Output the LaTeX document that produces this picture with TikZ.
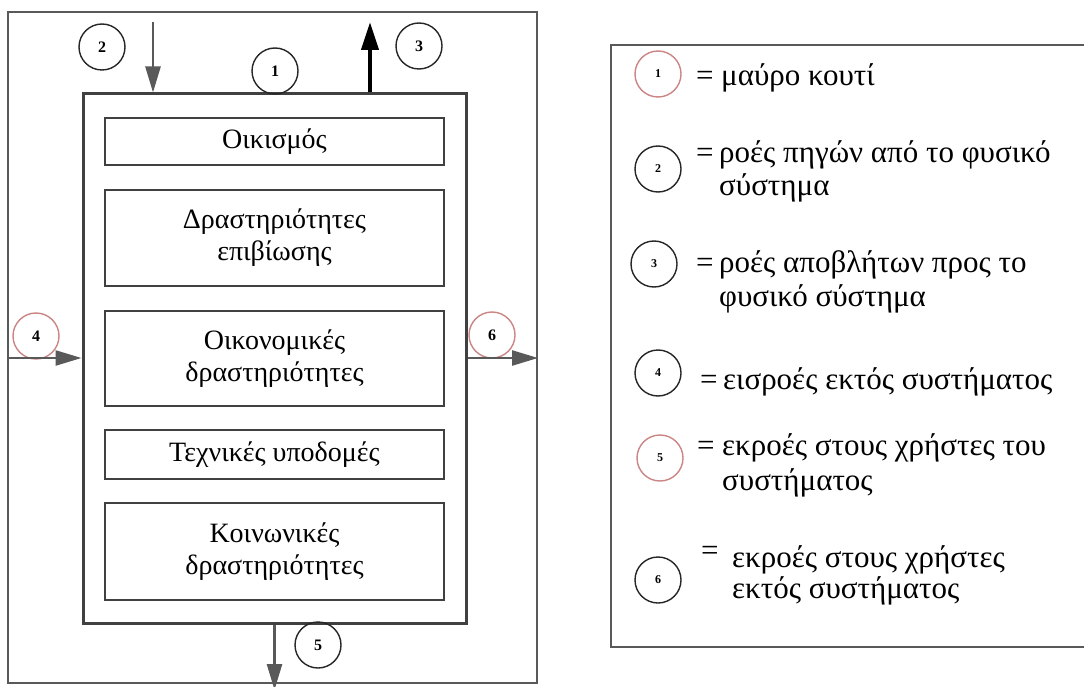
\documentclass[tikz,border=0pt]{standalone}
\usepackage{fontspec}
\setmainfont{Liberation Serif}
\usetikzlibrary{arrows.meta}
\begin{document}
\begin{tikzpicture}[x=1pt,y=-1pt,
  frame/.style={draw=black!65, line width=2pt},
  inbox/.style={draw=black!75, line width=3pt, inner sep=0pt},
  cbox/.style={draw=black!75, line width=2pt, minimum width=339pt, inner sep=0pt, align=center, font=\fontsize{28}{32}\selectfont},
  num/.style={draw=black!85, circle, line width=1.4pt, minimum size=46pt, inner sep=0pt, font=\fontsize{16}{16}\selectfont\bfseries},
  pnum/.style={num, draw=red!35!white!80!black},
  lnum/.style={num, font=\fontsize{12}{12}\selectfont\bfseries},
  lpnum/.style={pnum, font=\fontsize{12}{12}\selectfont\bfseries},
  ltext/.style={anchor=base west, inner sep=0pt, font=\fontsize{31}{35}\selectfont},
  flow/.style={draw=black!65, line width=2.5pt, -{Triangle[length=26pt,width=15pt]}},
  bflow/.style={draw=black, line width=4pt, -{Triangle[length=28pt,width=17pt]}}
]
\path[use as bounding box, fill=white] (0,0) rectangle (1084,687);

% frames
\node[frame, minimum width=529pt, minimum height=671pt, inner sep=0pt] (outer) at (272.5,347.5) {};
\node[inbox, minimum width=383pt, minimum height=529pt] (inner) at (274.5,358.5) {};

% content boxes
\node[cbox, minimum height=47pt] (b1) at (274.5,141.5) {Οικισμός};
\node[cbox, minimum height=96pt] (b2) at (274.5,238) {Δραστηριότητες\\επιβίωσης};
\node[cbox, minimum height=95pt] (b3) at (274.5,358.5) {Οικονομικές\\δραστηριότητες};
\node[cbox, minimum height=49pt] (b4) at (274.5,454.5) {Τεχνικές υποδομές};
\node[cbox, minimum height=97pt] (b5) at (274.5,551.5) {Κοινωνικές\\δραστηριότητες};

% numbered circles in the diagram
\node[num] (c2) at (102,47) {2};
\node[num] (c1) at (275,71) {1};
\node[num] (c3) at (419,46) {3};
\node[pnum] (c4) at (36,336) {4};
\node[pnum] (c6) at (492,335) {6};
\node[num] (c5) at (318,645) {5};

% flows
\coordinate (s2) at (153,22);
\coordinate (e3) at (370,22);
\coordinate (s4) at (outer.west |- 0,358);
\coordinate (e6) at (outer.east |- 0,358);
\coordinate (e5) at (inner.south |- 0,690);
\draw[flow] (s2) -- (s2 |- inner.north);
\draw[bflow] (e3 |- inner.north) -- (e3);
\draw[flow] (s4) -- (inner.west |- s4);
\draw[flow] (inner.east |- e6) -- (e6);
\draw[flow] (inner.south) -- (e5);

% legend
\draw[frame] (1090,45) -- (611,45) -- (611,647) -- (1090,647);

\node[lpnum] (l1) at (658,74) {1};
\node[ltext] (e1) at (696,86) {=};
\node[ltext] (t1) at (721,86) {μαύρο κουτί};

\node[lnum] (l2) at (658,169) {2};
\node[ltext] (e2) at (696,163) {=};
\node[ltext] (t2a) at (719,163) {ροές πηγών από το φυσικό};
\node[ltext] (t2b) at (719,196) {σύστημα};

\node[lnum] (l3) at (654,264) {3};
\node[ltext] (e3t) at (696,272) {=};
\node[ltext] (t3a) at (719,272) {ροές αποβλήτων προς το};
\node[ltext] (t3b) at (719,306) {φυσικό σύστημα};

\node[lnum] (l4) at (658,373) {4};
\node[ltext] (e4) at (700,389) {=};
\node[ltext] (t4) at (723,389) {εισροές εκτός συστήματος};

\node[lpnum] (l5) at (660,458) {5};
\node[ltext] (e5t) at (697,455) {=};
\node[ltext] (t5a) at (722,455) {εκροές στους χρήστες του};
\node[ltext] (t5b) at (722,490) {συστήματος};

\node[lnum] (l6) at (658,580) {6};
\node[ltext] (e6t) at (701,560) {=};
\node[ltext] (t6a) at (732,567) {εκροές στους χρήστες};
\node[ltext] (t6b) at (732,598) {εκτός συστήματος};
\end{tikzpicture}
\end{document}
